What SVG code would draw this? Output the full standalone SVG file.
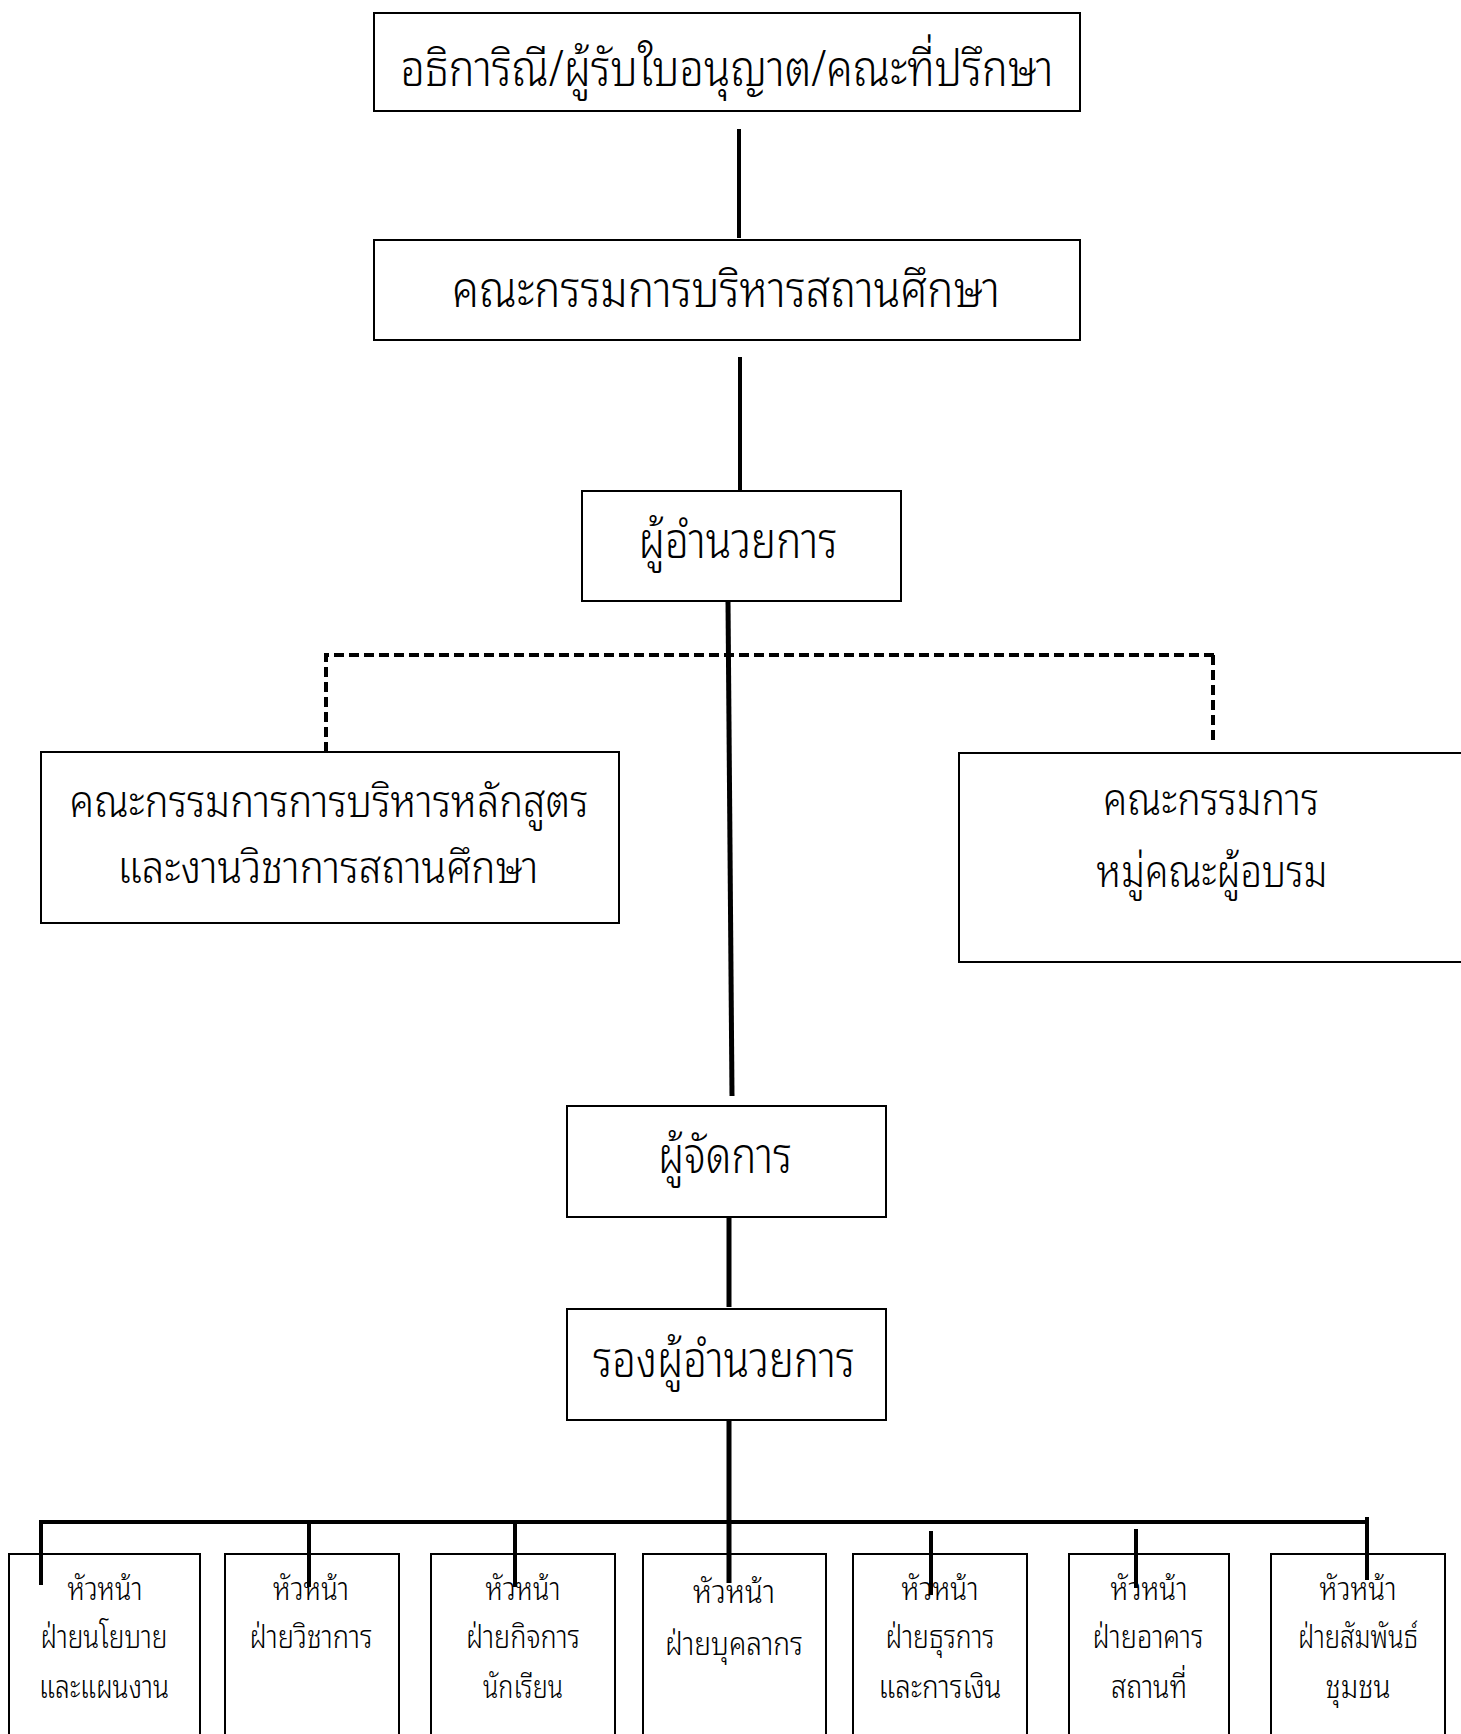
<svg xmlns="http://www.w3.org/2000/svg" width="1461" height="1734" viewBox="0 0 1461 1734">
<style>
  .box { fill: #ffffff; stroke: #000000; stroke-width: 2; }
  .t { font-family: "Noto Sans Thai Looped", "Noto Sans Thai", "Noto Sans", "DejaVu Sans", sans-serif; font-weight: 300; fill: #000000; text-anchor: middle; }
  .big { font-size: 50px; }
  .mid { font-size: 45px; }
  .small { font-size: 32px; }
  .conn { stroke: #000000; stroke-width: 4; fill: none; }
  .thick { stroke: #000000; stroke-width: 5; fill: none; }
  .dash { stroke: #000000; stroke-width: 4; fill: none; stroke-dasharray: 10 5; }
</style>
<rect x="0" y="0" width="1461" height="1734" fill="#ffffff"/>

<g id="node-board">
  <rect class="box" x="374" y="13" width="706" height="98"/>
  <text class="t big" x="727" y="86" textLength="653" lengthAdjust="spacingAndGlyphs">อธิการิณี/ผู้รับใบอนุญาต/คณะที่ปรึกษา</text>
</g>
<g id="node-exec-committee">
  <rect class="box" x="374" y="240" width="706" height="100"/>
  <text class="t big" x="726" y="307" textLength="548" lengthAdjust="spacingAndGlyphs">คณะกรรมการบริหารสถานศึกษา</text>
</g>
<g id="node-director">
  <rect class="box" x="582" y="491" width="319" height="110"/>
  <text class="t big" x="738" y="558" textLength="199" lengthAdjust="spacingAndGlyphs">ผู้อำนวยการ</text>
</g>
<g id="node-curriculum">
  <rect class="box" x="41" y="752" width="578" height="171"/>
  <text class="t mid" x="329" y="817" textLength="519" lengthAdjust="spacingAndGlyphs">คณะกรรมการการบริหารหลักสูตร</text>
  <text class="t mid" x="328" y="883" textLength="421" lengthAdjust="spacingAndGlyphs">และงานวิชาการสถานศึกษา</text>
</g>
<g id="node-scouts">
  <rect class="box" x="959" y="753" width="520" height="209"/>
  <text class="t mid" x="1211" y="815" textLength="216" lengthAdjust="spacingAndGlyphs">คณะกรรมการ</text>
  <text class="t mid" x="1212" y="887" textLength="231" lengthAdjust="spacingAndGlyphs">หมู่คณะผู้อบรม</text>
</g>
<g id="node-manager">
  <rect class="box" x="567" y="1106" width="319" height="111"/>
  <text class="t big" x="725" y="1173" textLength="134" lengthAdjust="spacingAndGlyphs">ผู้จัดการ</text>
</g>
<g id="node-deputy">
  <rect class="box" x="567" y="1309" width="319" height="111"/>
  <text class="t big" x="724" y="1377" textLength="262" lengthAdjust="spacingAndGlyphs">รองผู้อำนวยการ</text>
</g>

<g id="node-policy">
  <rect class="box" x="9" y="1554" width="191" height="200"/>
  <text class="t small" x="105" y="1600" textLength="75" lengthAdjust="spacingAndGlyphs">หัวหน้า</text>
  <text class="t small" x="104" y="1648" textLength="127" lengthAdjust="spacingAndGlyphs">ฝ่ายนโยบาย</text>
  <text class="t small" x="104" y="1698" textLength="130" lengthAdjust="spacingAndGlyphs">และแผนงาน</text>
</g>
<g id="node-academic">
  <rect class="box" x="225" y="1554" width="174" height="200"/>
  <text class="t small" x="311" y="1600" textLength="76" lengthAdjust="spacingAndGlyphs">หัวหน้า</text>
  <text class="t small" x="311" y="1648" textLength="123" lengthAdjust="spacingAndGlyphs">ฝ่ายวิชาการ</text>
</g>
<g id="node-student">
  <rect class="box" x="431" y="1554" width="184" height="200"/>
  <text class="t small" x="523" y="1600" textLength="75" lengthAdjust="spacingAndGlyphs">หัวหน้า</text>
  <text class="t small" x="523" y="1648" textLength="114" lengthAdjust="spacingAndGlyphs">ฝ่ายกิจการ</text>
  <text class="t small" x="523" y="1698" textLength="80" lengthAdjust="spacingAndGlyphs">นักเรียน</text>
</g>
<g id="node-personnel">
  <rect class="box" x="643" y="1554" width="183" height="200"/>
  <text class="t small" x="734" y="1603" textLength="82" lengthAdjust="spacingAndGlyphs">หัวหน้า</text>
  <text class="t small" x="734" y="1655" textLength="138" lengthAdjust="spacingAndGlyphs">ฝ่ายบุคลากร</text>
</g>
<g id="node-finance">
  <rect class="box" x="853" y="1554" width="174" height="200"/>
  <text class="t small" x="940" y="1600" textLength="77" lengthAdjust="spacingAndGlyphs">หัวหน้า</text>
  <text class="t small" x="940" y="1648" textLength="109" lengthAdjust="spacingAndGlyphs">ฝ่ายธุรการ</text>
  <text class="t small" x="940" y="1698" textLength="123" lengthAdjust="spacingAndGlyphs">และการเงิน</text>
</g>
<g id="node-building">
  <rect class="box" x="1069" y="1554" width="160" height="200"/>
  <text class="t small" x="1149" y="1600" textLength="77" lengthAdjust="spacingAndGlyphs">หัวหน้า</text>
  <text class="t small" x="1148" y="1648" textLength="111" lengthAdjust="spacingAndGlyphs">ฝ่ายอาคาร</text>
  <text class="t small" x="1149" y="1698" textLength="76" lengthAdjust="spacingAndGlyphs">สถานที่</text>
</g>
<g id="node-community">
  <rect class="box" x="1271" y="1554" width="174" height="200"/>
  <text class="t small" x="1358" y="1600" textLength="77" lengthAdjust="spacingAndGlyphs">หัวหน้า</text>
  <text class="t small" x="1358" y="1648" textLength="120" lengthAdjust="spacingAndGlyphs">ฝ่ายสัมพันธ์</text>
  <text class="t small" x="1358" y="1698" textLength="65" lengthAdjust="spacingAndGlyphs">ชุมชน</text>
</g>

<g id="connectors">
  <line class="conn" x1="739" y1="129" x2="739" y2="238"/>
  <line class="conn" x1="740" y1="357" x2="740" y2="490"/>
  <polyline class="dash" points="326,752 326,655 1217,655"/>
  <line class="dash" x1="1213" y1="655" x2="1213" y2="745"/>
  <line class="thick" x1="728" y1="601" x2="732" y2="1096"/>
  <line class="thick" x1="729" y1="1217" x2="729" y2="1307"/>
  <line class="conn" x1="41" y1="1522" x2="1367" y2="1522"/>
  <line class="thick" x1="729" y1="1420" x2="729" y2="1583"/>
  <line class="conn" x1="41" y1="1520" x2="41" y2="1585"/>
  <line class="conn" x1="309" y1="1522" x2="309" y2="1587"/>
  <line class="conn" x1="515" y1="1522" x2="515" y2="1587"/>
  <line class="conn" x1="931" y1="1531" x2="931" y2="1595"/>
  <line class="conn" x1="1136" y1="1529" x2="1136" y2="1588"/>
  <line class="conn" x1="1367" y1="1517" x2="1367" y2="1580"/>
</g>
</svg>
